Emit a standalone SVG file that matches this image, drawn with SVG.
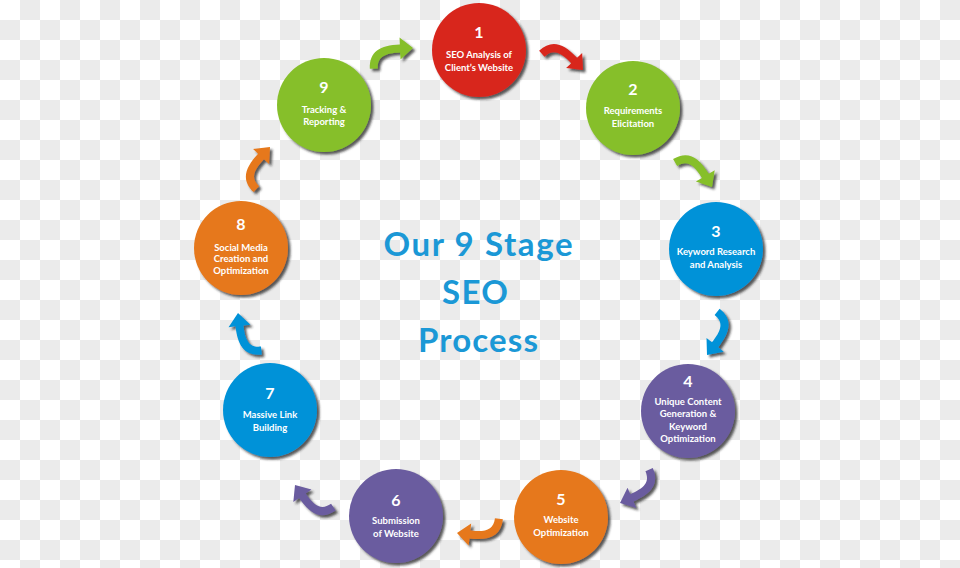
<svg xmlns="http://www.w3.org/2000/svg" width="960" height="568" viewBox="0 0 960 568">
<defs>
<pattern id="chk" width="40" height="40" patternUnits="userSpaceOnUse">
<rect width="40" height="40" fill="#ffffff"/>
<rect x="20" y="0" width="20" height="20" fill="#ebebeb"/>
<rect x="0" y="20" width="20" height="20" fill="#ebebeb"/>
</pattern>
<filter id="sh" x="-20%" y="-20%" width="150%" height="150%">
<feDropShadow dx="2.5" dy="2.5" stdDeviation="1.3" flood-color="#222" flood-opacity="0.75"/>
</filter>
<path id="arr" d="M -44 19 C -44 2 -33 -4 -13 -4 L -13 -11 L 0 0 L -13 11 L -13 4 C -28 4 -36 7 -36 19 Z"/>
</defs>
<style>
.num{font-family:Lato,"Open Sans","DejaVu Sans",sans-serif;font-weight:bold;font-size:16px;fill:#fff;text-anchor:middle}
.lbl{font-family:Lato,"Open Sans","DejaVu Sans",sans-serif;font-weight:bold;font-size:9.5px;fill:#fff;text-anchor:middle}
.ttl{font-family:Lato,"Open Sans","DejaVu Sans",sans-serif;font-weight:bold;font-size:33px;fill:#1b98d6;text-anchor:middle}
.red{fill:#d8261e}.grn{fill:#86bf2a}.blu{fill:#0092d8}.pur{fill:#6b5c9f}.org{fill:#e6781a}
</style>
<rect width="960" height="568" fill="url(#chk)"/>
<g id="connectors">
<g filter="url(#sh)" class="red"><use href="#arr" transform="translate(583,70) rotate(47)"/></g>
<g filter="url(#sh)" class="grn"><use href="#arr" transform="translate(712,187) rotate(59)"/></g>
<g filter="url(#sh)" class="blu"><use href="#arr" transform="translate(707,355) rotate(128.6)"/></g>
<g filter="url(#sh)" class="pur"><use href="#arr" transform="translate(620,503) rotate(156.5)"/></g>
<g filter="url(#sh)" class="org"><use href="#arr" transform="translate(457,533) rotate(186.6)"/></g>
<g filter="url(#sh)" class="pur"><use href="#arr" transform="translate(295,485) rotate(235.4)"/></g>
<g filter="url(#sh)" class="blu"><use href="#arr" transform="translate(238,313) rotate(263.5)"/></g>
<g filter="url(#sh)" class="org"><use href="#arr" transform="translate(270,147) rotate(-46.6)"/></g>
<g filter="url(#sh)" class="grn"><use href="#arr" transform="translate(413,48) rotate(-2.4)"/></g>
</g>
<g id="n1"><circle cx="479" cy="50" r="47" class="red" filter="url(#sh)"/>
<text class="num" x="479" y="38">1</text><text class="lbl" x="479" y="58">SEO Analysis of</text><text class="lbl" x="479" y="71">Client’s Website</text></g>
<g id="n2"><circle cx="633" cy="108" r="47" class="grn" filter="url(#sh)"/>
<text class="num" x="633" y="95">2</text><text class="lbl" x="633" y="114">Requirements</text><text class="lbl" x="633" y="127">Elicitation</text></g>
<g id="n3"><circle cx="716" cy="249" r="47" class="blu" filter="url(#sh)"/>
<text class="num" x="716" y="237">3</text><text class="lbl" x="716" y="255">Keyword Research</text><text class="lbl" x="716" y="268">and Analysis</text></g>
<g id="n4"><circle cx="688" cy="411" r="47" class="pur" filter="url(#sh)"/>
<text class="num" x="688" y="387">4</text><text class="lbl" x="688" y="405">Unique Content</text><text class="lbl" x="688" y="417">Generation &amp;</text><text class="lbl" x="688" y="430">Keyword</text><text class="lbl" x="688" y="442">Optimization</text></g>
<g id="n5"><circle cx="561" cy="517" r="47" class="org" filter="url(#sh)"/>
<text class="num" x="561" y="505">5</text><text class="lbl" x="561" y="523">Website</text><text class="lbl" x="561" y="536">Optimization</text></g>
<g id="n6"><circle cx="396" cy="516" r="47" class="pur" filter="url(#sh)"/>
<text class="num" x="396" y="506">6</text><text class="lbl" x="396" y="524">Submission</text><text class="lbl" x="396" y="537">of Website</text></g>
<g id="n7"><circle cx="270" cy="410" r="47" class="blu" filter="url(#sh)"/>
<text class="num" x="270" y="399">7</text><text class="lbl" x="270" y="418">Massive Link</text><text class="lbl" x="270" y="431">Building</text></g>
<g id="n8"><circle cx="241" cy="248" r="47" class="org" filter="url(#sh)"/>
<text class="num" x="241" y="230">8</text><text class="lbl" x="241" y="251">Social Media</text><text class="lbl" x="241" y="262">Creation and</text><text class="lbl" x="241" y="274">Optimization</text></g>
<g id="n9"><circle cx="324" cy="105" r="47" class="grn" filter="url(#sh)"/>
<text class="num" x="324" y="93">9</text><text class="lbl" x="324" y="113">Tracking &amp;</text><text class="lbl" x="324" y="125">Reporting</text></g>
<g id="title">
<text class="ttl" x="478" y="256" textLength="189">Our 9 Stage</text>
<text class="ttl" x="475" y="304" textLength="66">SEO</text>
<text class="ttl" x="478" y="352" textLength="120">Process</text>
</g>
</svg>
